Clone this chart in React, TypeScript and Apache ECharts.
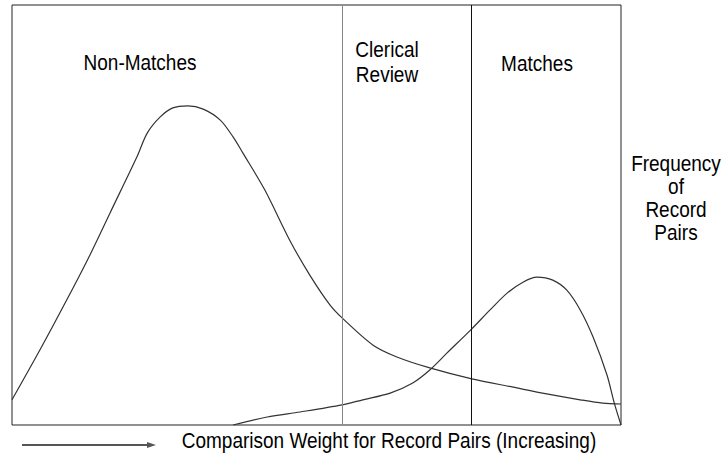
import React, { useEffect, useRef } from "react";
import * as echarts from "echarts";

// Comparison weight (0-100 scale, left to right) and frequency (0-100 scale)
const nonMatchX = [0, 4.6, 9.0, 12.8, 16.1, 20.5, 22.2, 24.3, 26.4, 28.9, 31.4, 34.2, 36.3, 37.9, 41.5, 45.6, 48.9, 52.2, 54.2, 59.3, 63.2, 68.6, 75.5, 82.3, 87.8, 93.3, 97.0, 100];
const nonMatchY = [6.0, 17.9, 29.8, 40.5, 50.5, 63.8, 69.5, 73.3, 75.5, 76.0, 75.2, 72.6, 68.6, 64.8, 56.0, 44.0, 35.7, 28.6, 25.5, 19.0, 16.2, 13.6, 11.0, 9.0, 7.4, 6.0, 5.2, 5.0];

const matchX = [36.3, 41.9, 47.3, 54.2, 57.6, 62.1, 65.8, 68.6, 71.4, 75.5, 78.5, 81.3, 83.9, 86.2, 88.8, 91.1, 93.3, 95.4, 97.7, 98.9, 100];
const matchY = [0, 1.9, 3.1, 4.8, 6.0, 7.6, 10.0, 13.1, 17.1, 22.9, 27.4, 31.4, 34.0, 35.2, 34.5, 32.1, 27.4, 21.0, 11.9, 5.2, 0];

// Decision thresholds on the comparison weight axis
const lowerThreshold = 54.2;
const upperThreshold = 75.4;

const regionLabels = ["Non-Matches", "Clerical\nReview", "Matches"];
const yAxisTitle = "Frequency\nof\nRecord\nPairs";
const xAxisTitle = "Comparison Weight for Record Pairs (Increasing)";

const FONT = "'Liberation Sans', Arial, Helvetica, sans-serif";

export default function App() {
  const ref = useRef<HTMLDivElement>(null);
  useEffect(() => {
    if (!ref.current) return;
    const chart = echarts.init(ref.current, undefined, { renderer: "svg" });
    const nm = nonMatchX.map((x, i) => [x, nonMatchY[i]]);
    const m = matchX.map((x, i) => [x, matchY[i]]);
    const textStyle = (t: string, lh = 22) => ({
      text: t,
      fill: "#000",
      font: `19px ${FONT}`,
      textAlign: "center",
      textVerticalAlign: "middle",
      lineHeight: lh,
    });
    const sy = 1.13;
    chart.setOption({
      animation: false,
      backgroundColor: "#fff",
      grid: {
        left: 12,
        top: 5,
        right: 101,
        bottom: 32,
        show: true,
        borderColor: "#222",
        borderWidth: 1,
        backgroundColor: "transparent",
      },
      xAxis: {
        type: "value",
        min: 0,
        max: 100,
        axisLine: { show: false },
        axisTick: { show: false },
        axisLabel: { show: false },
        splitLine: { show: false },
      },
      yAxis: {
        type: "value",
        min: 0,
        max: 100,
        axisLine: { show: false },
        axisTick: { show: false },
        axisLabel: { show: false },
        splitLine: { show: false },
      },
      series: [
        {
          type: "line",
          data: nm,
          showSymbol: false,
          smooth: 0.3,
          lineStyle: { color: "#333", width: 1.2 },
          markLine: {
            silent: true,
            symbol: "none",
            label: { show: false },
            data: [
              { xAxis: lowerThreshold, lineStyle: { color: "#888", width: 1, type: "solid" } },
              { xAxis: upperThreshold, lineStyle: { color: "#111", width: 1, type: "solid" } },
            ],
          },
        },
        {
          type: "line",
          data: m,
          showSymbol: false,
          smooth: 0.3,
          lineStyle: { color: "#333", width: 1.2 },
        },
      ],
      graphic: [
        { type: "text", x: 140, y: 63, scaleY: sy, style: textStyle(regionLabels[0]) },
        { type: "text", x: 387, y: 62, scaleY: sy, style: textStyle(regionLabels[1]) },
        { type: "text", x: 537, y: 64, scaleY: sy, style: textStyle(regionLabels[2]) },
        { type: "text", x: 676, y: 198, scaleY: sy, style: textStyle(yAxisTitle, 20.5) },
        { type: "text", x: 389, y: 441, scaleY: sy, style: textStyle(xAxisTitle) },
        {
          type: "line",
          shape: { x1: 22, y1: 445, x2: 150, y2: 445 },
          style: { stroke: "#555", lineWidth: 2 },
        },
        {
          type: "polygon",
          shape: { points: [[147, 442], [156, 445], [147, 448]] },
          style: { fill: "#555" },
        },
      ],
    });
    return () => chart.dispose();
  }, []);
  return (
    <div
      ref={ref}
      style={{ position: "absolute", left: 0, top: 0, width: 722, height: 457 }}
    />
  );
}
